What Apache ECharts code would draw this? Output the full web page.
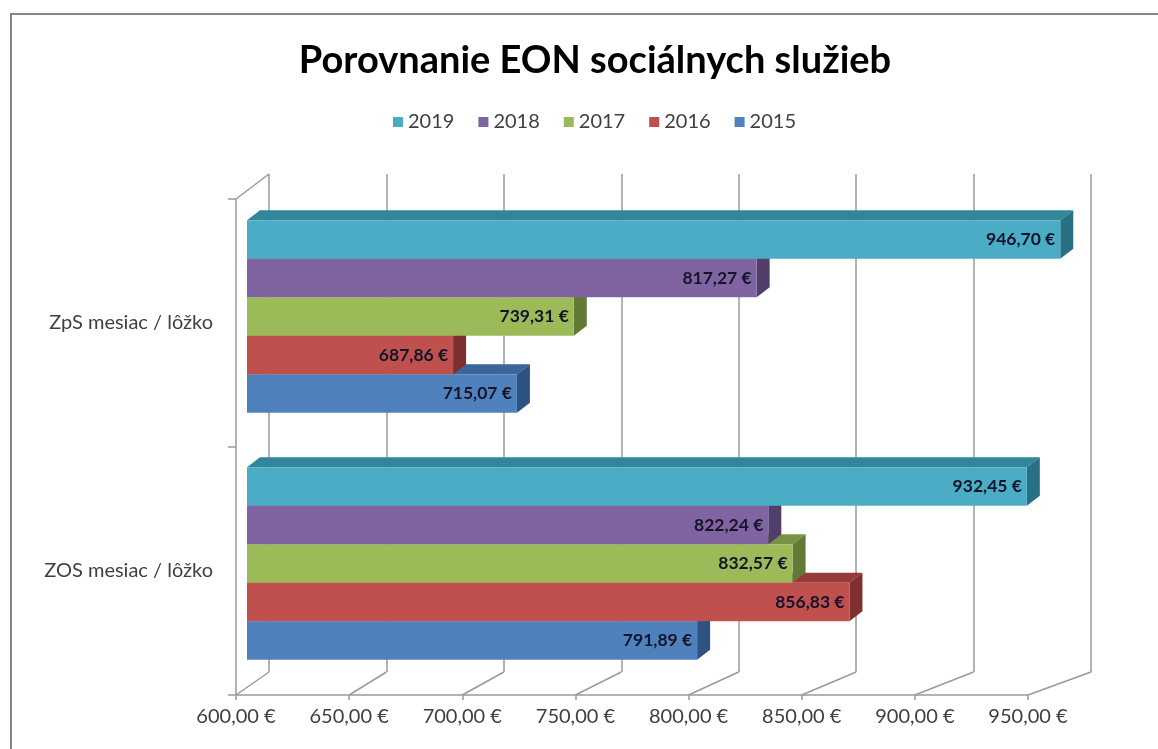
<!DOCTYPE html>
<html lang="sk">
<head>
<meta charset="UTF-8" />
<title>Porovnanie EON sociálnych služieb</title>
<script src="https://cdn.jsdelivr.net/npm/echarts@6/dist/echarts.min.js"></script>
<style>
  html, body { margin: 0; padding: 0; background: #fff; }
  #chart { width: 1158px; height: 749px; }
</style>
</head>
<body>
<div id="chart"></div>
<script>
// data (bottom category first)
const categories = ["ZOS mesiac / lôžko", "ZpS mesiac / lôžko"];
const years = ["2015", "2016", "2017", "2018", "2019"];
const values2015 = [791.89, 715.07];
const values2016 = [856.83, 687.86];
const values2017 = [832.57, 739.31];
const values2018 = [822.24, 817.27];
const values2019 = [932.45, 946.70];
const xTicks = [600, 650, 700, 750, 800, 850, 900, 950];

const yearValues = [values2015, values2016, values2017, values2018, values2019];
const xMin = xTicks[0], xMax = xTicks[xTicks.length - 1];

// office style colours: front, top, side
const palette = [
  { front: "#4f81bd", top: "#3a659a", side: "#2e5281" },
  { front: "#c0504d", top: "#963b39", side: "#7d302e" },
  { front: "#9bbb59", top: "#789443", side: "#637a36" },
  { front: "#8064a2", top: "#624b7f", side: "#513e6a" },
  { front: "#4bacc6", top: "#31869c", side: "#287084" }
];

const FONT = "Lato";
const gridColor = "#9a9a9a";
// layout of the fake 3d box
const WALL = { left: 269, top: 174, width: 822, height: 498 };
const FRONT = { left: 236, top: 199, width: 792, height: 496 };
const BARS = { left: 247, top: 193, width: 821, height: 494 };
const depthX = 13, depthY = -10;

function euro(v) {
  return v.toFixed(2).replace(".", ",") + " €";
}

function renderBar(params, api) {
  const row = years.length - 1 - params.seriesIndex; // 0 = top bar of the group
  const cat = api.value(1);
  const start = api.coord([xMin, cat]);
  const end = api.coord([api.value(0), cat]);
  const band = api.size([0, 1])[1];
  const h = band * 0.156;
  const y0 = start[1] - 2.5 * h + row * h;
  const x0 = start[0], x1 = end[0];
  const c = palette[params.seriesIndex];
  return {
    type: "group",
    children: [
      { type: "polygon", shape: { points: [[x0, y0], [x0 + depthX, y0 + depthY], [x1 + depthX, y0 + depthY], [x1, y0]] }, style: { fill: c.top } },
      { type: "polygon", shape: { points: [[x1, y0], [x1 + depthX, y0 + depthY], [x1 + depthX, y0 + h + depthY], [x1, y0 + h]] }, style: { fill: c.side } },
      { type: "rect", shape: { x: x0, y: y0, width: x1 - x0, height: h }, style: { fill: c.front } },
      { type: "text", style: { text: euro(api.value(0)), x: x1 - 5, y: y0 + h / 2, align: "right", verticalAlign: "middle", font: "bold 17.5px " + FONT, fill: "#141428" } }
    ]
  };
}

const chart = echarts.init(document.getElementById("chart"));

const option = {
  animation: false,
  backgroundColor: "#fff",
  title: {
    text: "Porovnanie EON sociálnych služieb",
    left: 590,
    top: 37,
    textAlign: "center",
    textStyle: { fontFamily: FONT, fontWeight: "bold", fontSize: 38, color: "#000" }
  },
  legend: {
    data: ["2019", "2018", "2017", "2016", "2015"],
    left: 388,
    top: 107,
    icon: "rect",
    itemWidth: 10,
    itemHeight: 10,
    itemGap: 24,
    textStyle: { fontFamily: FONT, fontSize: 20, color: "#404040" }
  },
  grid: [
    Object.assign({ containLabel: false }, WALL),
    Object.assign({ containLabel: false }, FRONT),
    Object.assign({ containLabel: false }, BARS)
  ],
  xAxis: [
    {
      gridIndex: 0, type: "value", min: xMin, max: xMax, interval: 50,
      axisLine: { show: false }, axisTick: { show: false }, axisLabel: { show: false },
      splitLine: { show: true, lineStyle: { color: gridColor, width: 1.5 } }
    },
    {
      gridIndex: 1, type: "value", min: xMin, max: xMax, interval: 50,
      axisLine: { show: true, lineStyle: { color: gridColor, width: 1.5 } },
      axisTick: { show: true, length: 5, lineStyle: { color: gridColor, width: 1.5 } },
      axisLabel: { formatter: euro, margin: 12, fontFamily: FONT, fontSize: 20, color: "#404040" },
      splitLine: { show: false }
    },
    {
      gridIndex: 2, type: "value", min: xMin, max: xMax, show: false
    }
  ],
  yAxis: [
    { gridIndex: 0, type: "category", data: categories, show: false },
    {
      gridIndex: 1, type: "category", data: categories,
      axisLine: { show: true, lineStyle: { color: gridColor, width: 1.5 } },
      axisTick: { show: true, length: 8, lineStyle: { color: gridColor, width: 1.5 } },
      axisLabel: { margin: 23, fontFamily: FONT, fontSize: 20, color: "#404040" }
    },
    { gridIndex: 2, type: "category", data: categories, show: false }
  ],
  series: years.map((y, i) => ({
    name: y,
    type: "custom",
    xAxisIndex: 2,
    yAxisIndex: 2,
    renderItem: renderBar,
    itemStyle: { color: palette[i].front },
    encode: { x: 0, y: 1 },
    data: yearValues[i].map((v, c) => [v, c])
  }))
};

chart.setOption(option);

// floor diagonals, left wall edge and the outer border
const frame = [];
const floorFront = FRONT.top + FRONT.height;
const floorBack = WALL.top + WALL.height;
xTicks.forEach((v) => {
  const fx = chart.convertToPixel({ xAxisIndex: 1 }, v);
  const bx = chart.convertToPixel({ xAxisIndex: 0 }, v);
  frame.push({
    type: "line", silent: true, z: 0,
    shape: { x1: fx, y1: floorFront, x2: bx, y2: floorBack },
    style: { stroke: gridColor, lineWidth: 1.5 }
  });
});
frame.push({
  type: "line", silent: true, z: 0,
  shape: { x1: FRONT.left, y1: FRONT.top, x2: WALL.left, y2: WALL.top },
  style: { stroke: gridColor, lineWidth: 1.5 }
});
frame.push({
  type: "rect", silent: true, z: 0,
  shape: { x: 11, y: 14, width: 1200, height: 800 },
  style: { fill: null, stroke: "#868686", lineWidth: 2 }
});
chart.setOption({ graphic: frame });
</script>
</body>
</html>
